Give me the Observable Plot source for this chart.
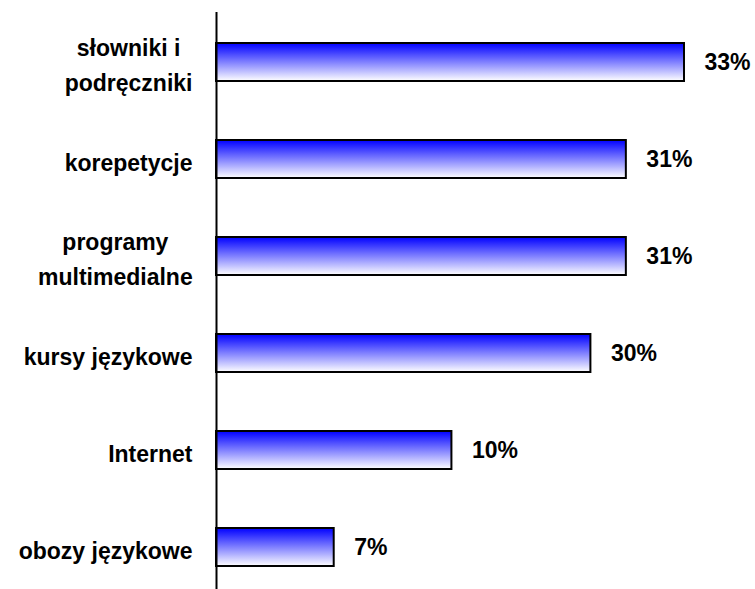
<!DOCTYPE html>
<html>
<head>
<meta charset="utf-8">
<script src="https://cdn.jsdelivr.net/npm/d3@7"></script>
<script src="https://cdn.jsdelivr.net/npm/@observablehq/plot@0.6"></script>
<style>
  html, body { margin: 0; padding: 0; background: #fff; }
  #chart svg { display: block; }
</style>
</head>
<body>
<div id="chart"></div>
<script>
// Categories (top to bottom)
const categories = [
  "słowniki i\npodręczniki",
  "korepetycje",
  "programy\nmultimedialne",
  "kursy językowe",
  "Internet",
  "obozy językowe"
];
const barValues = [33, 28.9, 28.9, 26.4, 16.6, 8.3];
// Printed value labels
const valueLabels = ["33%", "31%", "31%", "30%", "10%", "7%"];

const data = categories.map((c, i) => ({cat: c, v: barValues[i], label: valueLabels[i]}));

const font = "'Liberation Sans', Arial, sans-serif";

const plot = Plot.plot({
  width: 755,
  height: 589,
  marginLeft: 216,
  marginRight: 71,
  marginTop: 12,
  marginBottom: 0,
  style: {fontFamily: font, background: "white", overflow: "visible"},
  x: {domain: [0, 33], axis: null},
  y: {domain: categories, range: [12.3, 596.7], paddingInner: 0.61, paddingOuter: 0.305, axis: null},
  marks: [
    Plot.barX(data, {x: "v", y: "cat", fill: "url(#barGrad)", stroke: "black", strokeWidth: 2}),
    Plot.ruleX([0], {stroke: "black", strokeWidth: 2}),
    Plot.text(data, {x: 0, y: "cat", text: "cat", textAnchor: "end", dx: -24, lineHeight: 1.5,
      fontSize: 23, fontWeight: "bold", fill: "black", className: "catlabel"}),
    Plot.text(data, {x: "v", y: "cat", text: "label", textAnchor: "start", dx: 20,
      fontSize: 23, fontWeight: "bold", fill: "black"})
  ]
});

// gradient definition
const ns = "http://www.w3.org/2000/svg";
const defs = document.createElementNS(ns, "defs");
defs.innerHTML = `<linearGradient id="barGrad" x1="0" y1="0" x2="0" y2="1">
  <stop offset="0%" stop-color="#0000ff"/>
  <stop offset="100%" stop-color="#ffffff"/>
</linearGradient>`;
plot.insertBefore(defs, plot.firstChild);

document.getElementById("chart").appendChild(plot);

// center multi-line category labels within their right-aligned block
plot.querySelectorAll(".catlabel text").forEach(t => {
  const spans = t.querySelectorAll("tspan");
  if (spans.length < 2) return;
  const bb = t.getBBox();
  const right = bb.x + bb.width;
  let maxW = 0;
  spans.forEach(s => { maxW = Math.max(maxW, s.getComputedTextLength()); });
  t.setAttribute("text-anchor", "middle");
  spans.forEach(s => s.setAttribute("x", right - maxW / 2));
});
</script>
</body>
</html>
